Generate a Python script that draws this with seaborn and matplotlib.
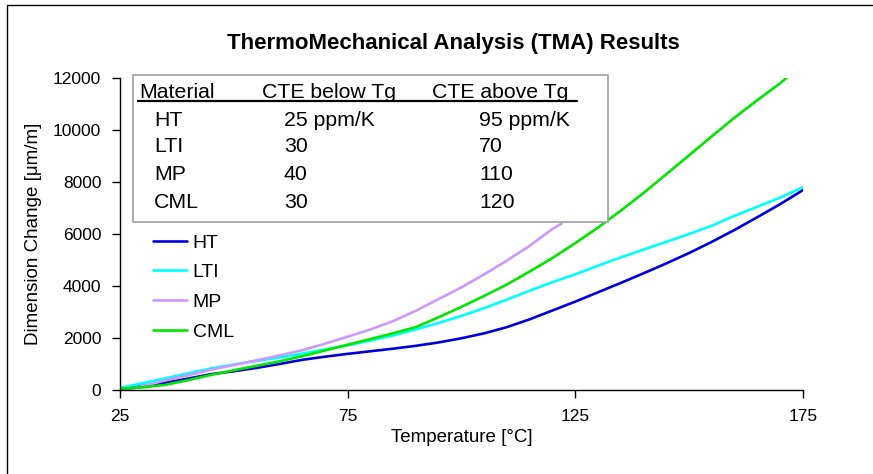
"""
plot.py — TMA results chart (dimension change vs temperature).
"""
import matplotlib
matplotlib.use("Agg")  # headless backend
import matplotlib.pyplot as plt
from matplotlib.lines import Line2D
from matplotlib.patches import Rectangle
import numpy as np
import pandas as pd
import seaborn as sns

# --- data --------------------------------------------------------------
temp_full = [25, 30, 35, 40, 45, 50, 55, 60, 65, 70, 75, 80, 85, 90, 95, 100,
             105, 110, 115, 120, 125, 130, 135, 140, 145, 150, 155, 160, 165,
             170, 175]
ht = [50, 160, 280, 440, 610, 720, 850, 1000, 1160, 1280, 1390, 1490, 1590,
      1700, 1830, 1990, 2180, 2420, 2720, 3060, 3400, 3760, 4120, 4490, 4870,
      5270, 5700, 6160, 6650, 7150, 7690]
lti = [80, 260, 450, 640, 830, 980, 1120, 1250, 1400, 1560, 1720, 1900, 2100,
       2330, 2580, 2850, 3150, 3480, 3820, 4150, 4450, 4780, 5100, 5400, 5700,
       6000, 6320, 6700, 7050, 7400, 7800]
temp_mp = [25, 30, 35, 40, 45, 50, 55, 60, 65, 70, 75, 80, 85, 90, 95, 100,
           105, 110, 115, 120, 122]
mp = [-50, 150, 370, 570, 780, 960, 1140, 1330, 1530, 1780, 2050, 2330, 2650,
      3050, 3500, 3950, 4450, 4980, 5550, 6200, 6400]
temp_cml = [25, 30, 35, 40, 45, 50, 55, 60, 65, 70, 75, 80, 85, 90, 95, 100,
            105, 110, 115, 120, 125, 130, 135, 140, 145, 150, 155, 160, 165,
            170, 172]
cml = [50, 100, 200, 380, 580, 760, 930, 1100, 1300, 1520, 1740, 1960, 2180,
       2420, 2800, 3200, 3620, 4060, 4560, 5080, 5650, 6250, 6900, 7580, 8300,
       9030, 9760, 10480, 11150, 11800, 12100]

materials = ["HT", "LTI", "MP", "CML"]
cte_below = ["25 ppm/K", "30", "40", "30"]
cte_above = ["95 ppm/K", "70", "110", "120"]
table_header = ["Material", "CTE below Tg", "CTE above Tg"]

palette = {"HT": "#0000DD", "LTI": "#00FFFF", "MP": "#CC99FF", "CML": "#00E600"}

frames = []
for name, xs, ys in [("HT", temp_full, ht), ("LTI", temp_full, lti),
                     ("MP", temp_mp, mp), ("CML", temp_cml, cml)]:
    frames.append(pd.DataFrame({"Temperature": xs, "Change": ys,
                                "Material": name}))
df = pd.concat(frames, ignore_index=True)

# --- figure -------------------------------------------------------------
sns.set_theme(style="white")
plt.rcParams["font.family"] = ["Liberation Sans", "DejaVu Sans"]
plt.rcParams.update({"text.color": "black", "axes.labelcolor": "black",
                     "xtick.color": "black", "ytick.color": "black"})

W, H = 873, 474
fig = plt.figure(figsize=(W / 100, H / 100), dpi=100)


def fx(x):
    return x / W


def fy(y):
    return 1 - y / H


ax = fig.add_axes([fx(120), fy(390), fx(803) - fx(120), fy(78) - fy(390)])
sns.lineplot(data=df, x="Temperature", y="Change", hue="Material",
             hue_order=materials, palette=palette, linewidth=1.9,
             sort=False, estimator=None, ax=ax)

ax.set_xlim(25, 175)
ax.set_ylim(0, 12000)
ax.set_xticks([25, 75, 125, 175])
ax.set_yticks(np.arange(0, 12001, 2000))
ax.tick_params(axis="both", direction="out", length=5.5, width=1,
               color="black", labelsize=12.5, pad=8, left=True, bottom=True)
for side in ["top", "right"]:
    ax.spines[side].set_visible(False)
for side in ["left", "bottom"]:
    ax.spines[side].set_color("black")
    ax.spines[side].set_linewidth(1)
ax.set_xlabel("Temperature [°C]", fontsize=13.5, labelpad=4)
ax.set_ylabel("Dimension Change [μm/m]", fontsize=13.5, labelpad=8)

handles, labels = ax.get_legend_handles_labels()
ax.legend(handles, labels, loc="upper left", frameon=False, fontsize=14,
          bbox_to_anchor=(fx(153), fy(234)), bbox_transform=fig.transFigure,
          borderaxespad=0, borderpad=0, handlelength=1.75, handletextpad=0.3,
          labelspacing=0.62)

fig.text(fx(453), fy(43), "ThermoMechanical Analysis (TMA) Results",
         ha="center", va="center", fontsize=16, fontweight="bold")

# --- CTE table inset ----------------------------------------------------
fig.add_artist(Rectangle((fx(133), fy(222)), fx(608) - fx(133),
                         fy(75) - fy(222), transform=fig.transFigure,
                         facecolor="white", edgecolor="#A0A0A0", lw=1.2,
                         zorder=5))
col_x = [139, 262, 432]
for x, txt in zip(col_x, table_header):
    fig.text(fx(x), fy(92), txt, ha="left", va="center", fontsize=15.3,
             zorder=6)
fig.add_artist(Line2D([fx(138), fx(577)], [fy(101), fy(101)],
                      transform=fig.transFigure, color="black", lw=1.6,
                      zorder=6))
row_y = [120, 147, 174, 202]
for i, y in enumerate(row_y):
    fig.text(fx(154), fy(y), materials[i], ha="left", va="center",
             fontsize=15.3, zorder=6)
    fig.text(fx(284), fy(y), cte_below[i], ha="left", va="center",
             fontsize=15.3, zorder=6)
    fig.text(fx(479), fy(y), cte_above[i], ha="left", va="center",
             fontsize=15.3, zorder=6)

# outer frame (only the top/left edges are visible in the reference)
fig.add_artist(Line2D([fx(7), fx(7), fx(873)], [fy(474), fy(5), fy(5)],
                      transform=fig.transFigure, color="black", lw=1))

fig.savefig("out.png", dpi=100)
plt.close(fig)
